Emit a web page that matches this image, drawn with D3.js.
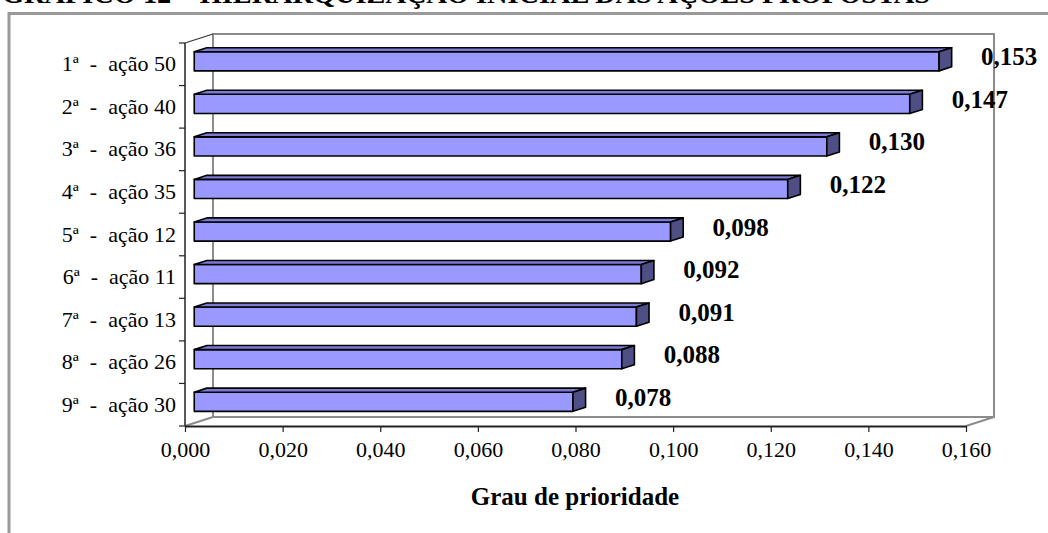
<!DOCTYPE html>
<html>
<head>
<meta charset="utf-8">
<script src="https://cdn.jsdelivr.net/npm/d3@7"></script>
<style>
  body { margin: 0; background: #fff; }
  text { font-family: "Liberation Serif", "Times New Roman", serif; }
</style>
</head>
<body>
<div id="chart"></div>
<script>
// chart data
const ranks = ["1ª", "2ª", "3ª", "4ª", "5ª", "6ª", "7ª", "8ª", "9ª"];
const actions = ["50", "40", "36", "35", "12", "11", "13", "26", "30"];
const values = [0.153, 0.147, 0.130, 0.122, 0.098, 0.092, 0.091, 0.088, 0.078];
const xTicks = [0, 0.02, 0.04, 0.06, 0.08, 0.10, 0.12, 0.14, 0.16];
const titleText = "GRÁFICO 12 – HIERARQUIZAÇÃO INICIAL DAS AÇÕES PROPOSTAS";
const axisTitle = "Grau de prioridade";

document.addEventListener('DOMContentLoaded', function() {
    const width = 1048, height = 533;
    const fmt = v => v.toFixed(3).replace('.', ',');
    const cats = ranks.map((r, i) => r + "  -  ação " + actions[i]);

    const svg = d3.select('#chart').append('svg')
        .attr('width', width)
        .attr('height', height);

    // plot frame (front plane)
    const left = 185, right = 966, top = 43, bottom = 426;
    const depthX = 28, depthY = -9;

    const xScale = d3.scaleLinear()
        .domain([0, 0.16])
        .range([left, right]);

    const yScale = d3.scaleBand()
        .domain(cats)
        .range([top, bottom])
        .paddingInner(0.55)
        .paddingOuter(0.275);

    // title (cut at the top of the page, as in the source)
    svg.append('text')
        .attr('x', 2)
        .attr('y', 2.5)
        .attr('textLength', 928)
        .attr('lengthAdjust', 'spacingAndGlyphs')
        .style('font-size', '28px')
        .style('font-weight', 'bold')
        .text(titleText);

    // outer border
    svg.append('rect')
        .attr('x', 9)
        .attr('y', 13.5)
        .attr('width', 1100)
        .attr('height', 600)
        .attr('fill', 'none')
        .attr('stroke', '#999')
        .attr('stroke-width', 3);

    // back wall and floor
    const wall = svg.append('g')
        .attr('fill', 'none')
        .attr('stroke', '#8c8c8c')
        .attr('stroke-width', 2);
    wall.append('path')
        .attr('d', `M${left + depthX},${bottom + depthY} L${left + depthX},${top + depthY} L${right + depthX},${top + depthY} L${right + depthX},${bottom + depthY} Z`);
    wall.append('path')
        .attr('d', `M${left},${bottom} L${left + depthX},${bottom + depthY} M${right},${bottom} L${right + depthX},${bottom + depthY}`);
    svg.append('path')
        .attr('d', `M${left},${top} L${left + depthX},${top + depthY}`)
        .attr('stroke', '#333')
        .attr('stroke-width', 1.2)
        .attr('fill', 'none');

    // bars (3D look)
    const f0 = 0.33, f1 = 0.78;
    const ox = depthX * f0, oy = depthY * f0;
    const dx = depthX * (f1 - f0), dy = depthY * (f1 - f0);
    const bh = yScale.bandwidth();

    const bars = svg.selectAll('.bar')
        .data(values)
        .enter()
        .append('g')
        .attr('class', 'bar')
        .attr('stroke', '#000')
        .attr('stroke-width', 1.6)
        .attr('stroke-linejoin', 'round');

    bars.append('rect')
        .attr('x', xScale(0) + ox)
        .attr('y', (d, i) => yScale(cats[i]) + oy)
        .attr('width', d => xScale(d) - xScale(0) - 2)
        .attr('height', bh)
        .attr('fill', '#9999ff');

    bars.append('path')
        .attr('d', (d, i) => {
            const x0 = xScale(0) + ox, x1 = xScale(d) + ox - 2, y0 = yScale(cats[i]) + oy;
            return `M${x0},${y0} L${x0 + dx},${y0 + dy} L${x1 + dx},${y0 + dy} L${x1},${y0} Z`;
        })
        .attr('fill', '#7b7bd6');

    bars.append('path')
        .attr('d', (d, i) => {
            const x1 = xScale(d) + ox - 2, y0 = yScale(cats[i]) + oy;
            return `M${x1},${y0} L${x1 + dx},${y0 + dy} L${x1 + dx},${y0 + dy + bh} L${x1},${y0 + bh} Z`;
        })
        .attr('fill', '#4f4f85');

    // value labels
    svg.selectAll('.val')
        .data(values)
        .enter()
        .append('text')
        .attr('class', 'val')
        .attr('x', d => xScale(d) + ox + 40)
        .attr('y', (d, i) => yScale(cats[i]) + bh / 2 + 1)
        .style('font-size', '25px')
        .style('font-weight', 'bold')
        .text(d => fmt(d));

    // axes
    const xAxis = svg.append('g')
        .attr('transform', `translate(0,${bottom})`)
        .call(d3.axisBottom(xScale).tickValues(xTicks).tickSize(6).tickSizeOuter(0).tickFormat(fmt));
    xAxis.select('.domain').attr('stroke', '#222').attr('stroke-width', 2);
    xAxis.selectAll('.tick line').attr('stroke', '#222').attr('stroke-width', 1.2);
    xAxis.selectAll('.tick text')
        .attr('dy', null)
        .attr('y', 31)
        .attr('fill', '#000')
        .style('font-family', '"Liberation Serif", serif')
        .style('font-size', '22px');

    const yTickScale = d3.scaleLinear().domain([0, cats.length]).range([top, bottom]);
    const yAxisG = svg.append('g');
    yAxisG.append('line')
        .attr('x1', left).attr('x2', left)
        .attr('y1', top).attr('y2', bottom)
        .attr('stroke', '#222').attr('stroke-width', 1.5);
    yAxisG.selectAll('.ytick')
        .data(d3.range(cats.length + 1))
        .enter()
        .append('line')
        .attr('x1', left - 6).attr('x2', left)
        .attr('y1', d => yTickScale(d)).attr('y2', d => yTickScale(d))
        .attr('stroke', '#222').attr('stroke-width', 1.2);

    svg.selectAll('.cat')
        .data(cats)
        .enter()
        .append('text')
        .attr('class', 'cat')
        .attr('x', 176)
        .attr('y', d => yScale(d) + bh / 2 + 7)
        .attr('text-anchor', 'end')
        .style('font-size', '22px')
        .style('white-space', 'pre')
        .attr('xml:space', 'preserve')
        .text(d => d);

    // axis title
    svg.append('text')
        .attr('x', 575)
        .attr('y', 505)
        .attr('text-anchor', 'middle')
        .style('font-size', '25px')
        .style('font-weight', 'bold')
        .text(axisTitle);
});
</script>
</body>
</html>
